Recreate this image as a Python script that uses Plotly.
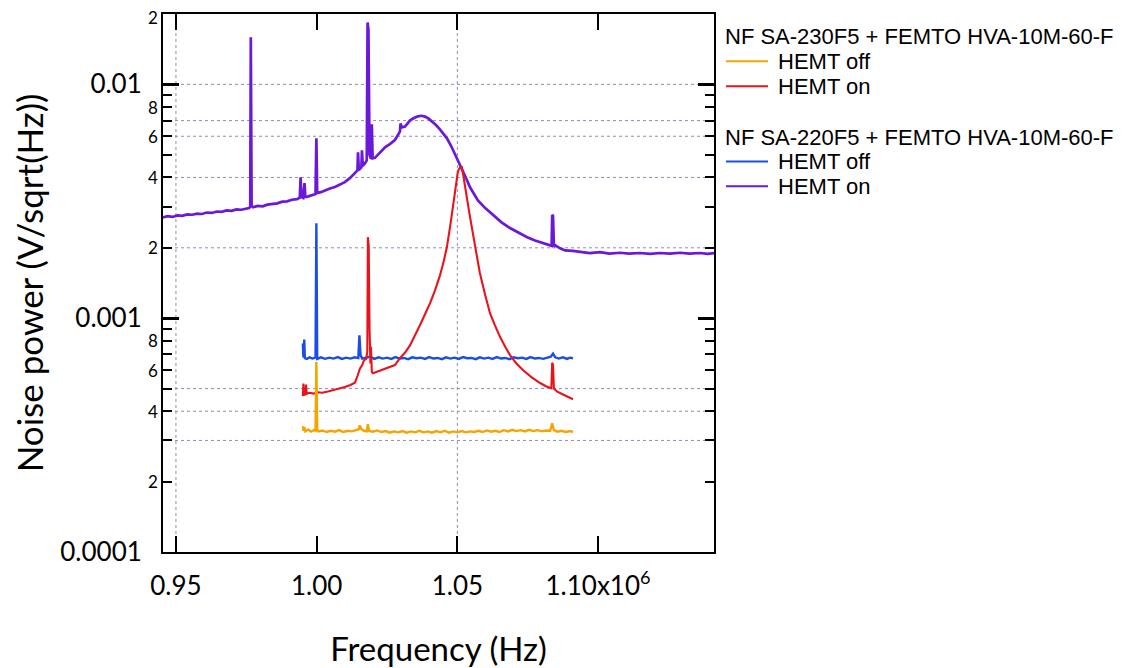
import numpy as np
import plotly.graph_objects as go

# frequency in units of 1e6 Hz, noise in V/sqrt(Hz)
# NF SA-220F5 + FEMTO, HEMT on (purple)
sa220_on = [
    (0.9454, 2.70e-3), (0.9470, 2.73e-3), (0.9488, 2.71e-3), (0.9505, 2.75e-3), (0.9522, 2.74e-3),
    (0.9540, 2.78e-3), (0.9558, 2.77e-3), (0.9575, 2.80e-3), (0.9592, 2.79e-3), (0.9610, 2.83e-3),
    (0.9628, 2.82e-3), (0.9645, 2.86e-3), (0.9662, 2.85e-3), (0.9680, 2.89e-3), (0.9698, 2.88e-3),
    (0.9715, 2.92e-3), (0.9732, 2.91e-3), (0.9748, 2.95e-3), (0.9760, 2.96e-3), (0.9764, 3.00e-3),
    (0.9766, 1.59e-2), (0.9769, 3.02e-3), (0.9774, 2.98e-3), (0.9790, 3.02e-3), (0.9808, 3.01e-3),
    (0.9825, 3.06e-3), (0.9842, 3.08e-3), (0.9860, 3.10e-3), (0.9878, 3.15e-3), (0.9895, 3.16e-3),
    (0.9912, 3.21e-3), (0.9930, 3.23e-3), (0.9940, 3.28e-3), (0.9943, 4.00e-3), (0.9946, 3.30e-3),
    (0.9952, 3.27e-3), (0.9957, 3.78e-3), (0.9960, 3.30e-3), (0.9968, 3.31e-3), (0.9982, 3.36e-3),
    (0.9996, 3.40e-3), (0.9999, 5.88e-3), (1.0002, 3.43e-3), (1.0015, 3.46e-3), (1.0030, 3.53e-3),
    (1.0047, 3.59e-3), (1.0065, 3.64e-3), (1.0083, 3.74e-3), (1.0100, 3.82e-3), (1.0118, 3.97e-3),
    (1.0130, 4.10e-3), (1.0140, 4.25e-3), (1.0145, 4.29e-3), (1.0147, 5.12e-3), (1.0150, 4.30e-3),
    (1.0155, 4.38e-3), (1.0159, 4.42e-3), (1.0161, 5.22e-3), (1.0164, 4.48e-3), (1.0172, 4.60e-3),
    (1.0178, 4.73e-3), (1.0181, 1.84e-2), (1.0184, 1.72e-2), (1.0188, 5.00e-3), (1.0193, 4.80e-3),
    (1.0196, 6.75e-3), (1.0199, 4.83e-3), (1.0207, 4.85e-3), (1.0225, 5.10e-3), (1.0243, 5.38e-3),
    (1.0260, 5.55e-3), (1.0278, 5.78e-3), (1.0290, 6.10e-3), (1.0296, 6.30e-3), (1.0298, 6.80e-3),
    (1.0303, 6.55e-3), (1.0314, 6.60e-3), (1.0332, 7.02e-3), (1.0346, 7.18e-3), (1.0360, 7.30e-3),
    (1.0372, 7.34e-3), (1.0385, 7.28e-3), (1.0397, 7.15e-3), (1.0410, 6.95e-3), (1.0424, 6.70e-3),
    (1.0438, 6.42e-3), (1.0450, 6.15e-3), (1.0463, 5.88e-3), (1.0478, 5.45e-3), (1.0492, 5.02e-3),
    (1.0504, 4.70e-3), (1.0516, 4.38e-3), (1.0530, 4.00e-3), (1.0545, 3.63e-3), (1.0558, 3.40e-3),
    (1.0573, 3.19e-3), (1.0600, 2.95e-3), (1.0627, 2.76e-3), (1.0657, 2.57e-3), (1.0687, 2.43e-3),
    (1.0718, 2.32e-3), (1.0748, 2.22e-3), (1.0776, 2.15e-3), (1.0804, 2.09e-3), (1.0825, 2.06e-3),
    (1.0835, 2.04e-3), (1.0837, 2.76e-3), (1.0840, 2.74e-3), (1.0843, 2.03e-3), (1.0848, 2.05e-3),
    (1.0865, 1.99e-3), (1.0883, 1.95e-3), (1.0910, 1.94e-3), (1.0936, 1.92e-3), (1.0970, 1.90e-3),
    (1.1007, 1.915e-3), (1.1040, 1.89e-3), (1.1078, 1.905e-3), (1.1110, 1.89e-3), (1.1149, 1.90e-3),
    (1.1185, 1.885e-3), (1.1220, 1.90e-3), (1.1255, 1.89e-3), (1.1291, 1.905e-3), (1.1325, 1.89e-3),
    (1.1362, 1.90e-3), (1.1390, 1.885e-3), (1.1412, 1.90e-3),
]

# NF SA-220F5 + FEMTO, HEMT off (blue)
sa220_off = [
    (0.9951, 7.80e-4), (0.9953, 6.80e-4), (0.9956, 8.10e-4), (0.9958, 6.75e-4), (0.9965, 6.70e-4),
    (0.9975, 6.80e-4), (0.9985, 6.72e-4), (0.9996, 6.78e-4), (0.9999, 2.55e-3), (1.0002, 6.70e-4),
    (1.0015, 6.80e-4), (1.0030, 6.70e-4), (1.0045, 6.78e-4), (1.0060, 6.72e-4), (1.0075, 6.82e-4),
    (1.0090, 6.70e-4), (1.0105, 6.78e-4), (1.0120, 6.72e-4), (1.0135, 6.80e-4), (1.0148, 6.75e-4),
    (1.0152, 8.45e-4), (1.0156, 6.95e-4), (1.0162, 6.72e-4), (1.0175, 6.80e-4), (1.0190, 6.85e-4),
    (1.0205, 6.70e-4), (1.0220, 6.80e-4), (1.0235, 6.72e-4), (1.0250, 6.78e-4), (1.0265, 6.70e-4),
    (1.0280, 6.82e-4), (1.0295, 6.72e-4), (1.0310, 6.76e-4), (1.0325, 6.68e-4), (1.0340, 6.80e-4),
    (1.0355, 6.74e-4), (1.0370, 6.78e-4), (1.0385, 6.70e-4), (1.0400, 6.82e-4), (1.0415, 6.72e-4),
    (1.0430, 6.76e-4), (1.0445, 6.68e-4), (1.0460, 6.80e-4), (1.0475, 6.72e-4), (1.0490, 6.78e-4),
    (1.0505, 6.70e-4), (1.0520, 6.82e-4), (1.0535, 6.74e-4), (1.0550, 6.76e-4), (1.0565, 6.68e-4),
    (1.0580, 6.80e-4), (1.0595, 6.72e-4), (1.0610, 6.78e-4), (1.0625, 6.70e-4), (1.0640, 6.82e-4),
    (1.0655, 6.72e-4), (1.0670, 6.76e-4), (1.0685, 6.68e-4), (1.0700, 6.80e-4), (1.0715, 6.74e-4),
    (1.0730, 6.78e-4), (1.0745, 6.70e-4), (1.0760, 6.82e-4), (1.0775, 6.72e-4), (1.0790, 6.76e-4),
    (1.0805, 6.70e-4), (1.0820, 6.80e-4), (1.0832, 6.85e-4), (1.0840, 7.05e-4), (1.0848, 6.80e-4),
    (1.0860, 6.72e-4), (1.0875, 6.80e-4), (1.0890, 6.70e-4), (1.0900, 6.78e-4), (1.0911, 6.74e-4),
]

# NF SA-230F5 + FEMTO, HEMT on (red)
sa230_on = [
    (0.9951, 4.65e-4), (0.9953, 5.25e-4), (0.9955, 4.70e-4), (0.9960, 4.72e-4), (0.9962, 5.20e-4),
    (0.9965, 4.75e-4), (0.9975, 4.80e-4), (0.9990, 4.76e-4), (1.0005, 4.82e-4), (1.0020, 4.80e-4),
    (1.0040, 4.86e-4), (1.0060, 4.92e-4), (1.0083, 5.02e-4), (1.0100, 5.08e-4), (1.0120, 5.18e-4),
    (1.0136, 5.30e-4), (1.0146, 5.70e-4), (1.0154, 6.10e-4), (1.0162, 6.30e-4), (1.0168, 6.60e-4),
    (1.0176, 6.70e-4), (1.0180, 7.20e-4), (1.0182, 2.22e-3), (1.0185, 2.05e-3), (1.0188, 9.00e-4),
    (1.0191, 6.40e-4), (1.0193, 7.55e-4), (1.0196, 5.90e-4), (1.0200, 5.82e-4), (1.0210, 5.88e-4),
    (1.0225, 5.98e-4), (1.0243, 6.12e-4), (1.0260, 6.20e-4), (1.0278, 6.30e-4), (1.0296, 6.75e-4),
    (1.0315, 7.15e-4), (1.0332, 7.67e-4), (1.0350, 8.45e-4), (1.0367, 9.33e-4), (1.0385, 1.04e-3),
    (1.0403, 1.16e-3), (1.0420, 1.31e-3), (1.0438, 1.52e-3), (1.0452, 1.76e-3), (1.0463, 2.02e-3),
    (1.0475, 2.50e-3), (1.0484, 3.04e-3), (1.0494, 3.70e-3), (1.0502, 4.25e-3), (1.0509, 4.40e-3),
    (1.0516, 4.42e-3), (1.0523, 3.95e-3), (1.0531, 3.41e-3), (1.0543, 2.80e-3), (1.0555, 2.31e-3),
    (1.0568, 1.90e-3), (1.0580, 1.56e-3), (1.0598, 1.27e-3), (1.0616, 1.05e-3), (1.0634, 9.30e-4),
    (1.0652, 8.30e-4), (1.0670, 7.55e-4), (1.0687, 6.95e-4), (1.0710, 6.40e-4), (1.0733, 6.00e-4),
    (1.0763, 5.60e-4), (1.0794, 5.28e-4), (1.0815, 5.12e-4), (1.0834, 5.02e-4), (1.0837, 6.45e-4),
    (1.0840, 6.30e-4), (1.0843, 5.00e-4), (1.0855, 4.85e-4), (1.0870, 4.75e-4), (1.0890, 4.62e-4),
    (1.0911, 4.50e-4),
]

# NF SA-230F5 + FEMTO, HEMT off (orange)
sa230_off = [
    (0.9951, 3.45e-4), (0.9953, 3.30e-4), (0.9956, 3.42e-4), (0.9960, 3.28e-4), (0.9970, 3.34e-4),
    (0.9980, 3.27e-4), (0.9990, 3.32e-4), (0.9996, 3.30e-4), (0.9999, 6.50e-4), (1.0002, 3.35e-4),
    (1.0006, 3.28e-4), (1.0020, 3.31e-4), (1.0035, 3.26e-4), (1.0050, 3.30e-4), (1.0065, 3.27e-4),
    (1.0080, 3.32e-4), (1.0095, 3.26e-4), (1.0110, 3.30e-4), (1.0125, 3.28e-4), (1.0140, 3.32e-4),
    (1.0150, 3.35e-4), (1.0153, 3.48e-4), (1.0158, 3.36e-4), (1.0168, 3.30e-4), (1.0178, 3.28e-4),
    (1.0182, 3.52e-4), (1.0186, 3.30e-4), (1.0200, 3.27e-4), (1.0215, 3.31e-4), (1.0230, 3.26e-4),
    (1.0245, 3.29e-4), (1.0260, 3.24e-4), (1.0275, 3.28e-4), (1.0290, 3.25e-4), (1.0305, 3.29e-4),
    (1.0320, 3.24e-4), (1.0335, 3.28e-4), (1.0350, 3.25e-4), (1.0365, 3.30e-4), (1.0380, 3.25e-4),
    (1.0395, 3.28e-4), (1.0410, 3.24e-4), (1.0425, 3.29e-4), (1.0440, 3.25e-4), (1.0455, 3.30e-4),
    (1.0470, 3.24e-4), (1.0485, 3.28e-4), (1.0500, 3.25e-4), (1.0515, 3.29e-4), (1.0530, 3.25e-4),
    (1.0545, 3.28e-4), (1.0560, 3.26e-4), (1.0575, 3.30e-4), (1.0590, 3.26e-4), (1.0605, 3.31e-4),
    (1.0620, 3.27e-4), (1.0635, 3.30e-4), (1.0650, 3.26e-4), (1.0665, 3.32e-4), (1.0680, 3.28e-4),
    (1.0695, 3.33e-4), (1.0710, 3.29e-4), (1.0725, 3.32e-4), (1.0740, 3.28e-4), (1.0755, 3.33e-4),
    (1.0770, 3.29e-4), (1.0785, 3.32e-4), (1.0800, 3.28e-4), (1.0815, 3.31e-4), (1.0830, 3.30e-4),
    (1.0837, 3.55e-4), (1.0843, 3.32e-4), (1.0855, 3.27e-4), (1.0870, 3.30e-4), (1.0885, 3.26e-4),
    (1.0900, 3.29e-4), (1.0911, 3.26e-4),
]

series = [
    (sa220_on, "#6b18d8", 2.7),
    (sa220_off, "#1a4ee6", 2.4),
    (sa230_on, "#e8141c", 2.1),
    (sa230_off, "#f5a500", 2.4),
]

x_ticks = [0.95, 1.00, 1.05, 1.10]
x_ticktext = ["0.95", "1.00", "1.05", "1.10x10<sup>6</sup>"]
y_major = [1e-4, 1e-3, 1e-2]
y_major_text = ["0.0001", "0.001", "0.01"]
y_minor = [m * d for d in (1e-4, 1e-3) for m in range(2, 10)] + [2e-2]
y_minor_labels = [2e-4, 4e-4, 6e-4, 8e-4, 2e-3, 4e-3, 6e-3, 8e-3, 2e-2]
y_minor_text = ["2", "4", "6", "8", "2", "4", "6", "8", "2"]
hgrid = [0.01, 0.007, 0.006, 0.004, 0.002, 0.0005, 0.0004, 0.0003]
vgrid = [0.95, 1.05]

legend_groups = [
    ("NF SA-230F5 + FEMTO HVA-10M-60-F", [("HEMT off", "#f5a500"), ("HEMT on", "#e8141c")]),
    ("NF SA-220F5 + FEMTO HVA-10M-60-F", [("HEMT off", "#1a4ee6"), ("HEMT on", "#6b18d8")]),
]

fig = go.Figure()
for pts, color, w in series:
    fx, fy = zip(*pts)
    fig.add_trace(go.Scatter(x=list(fx), y=list(fy), mode="lines",
                             line=dict(color=color, width=w), showlegend=False))

shapes = []
for v in hgrid:
    shapes.append(dict(type="line", xref="paper", x0=0, x1=1, yref="y", y0=v, y1=v,
                       line=dict(color="#8e8eb0", width=1, dash="dot"), layer="below"))
for v in vgrid:
    shapes.append(dict(type="line", xref="x", x0=v, x1=v, yref="paper", y0=0, y1=1,
                       line=dict(color="#8e8eb0", width=1, dash="dot"), layer="below"))

annotations = []
for v, t in zip(y_minor_labels, y_minor_text):
    annotations.append(dict(x=0, xref="paper", xshift=-3, xanchor="right", y=np.log10(v), yref="y",
                            yshift=-3 if v == 2e-2 else 0,
                            text=t, showarrow=False, font=dict(family="Lato", size=17, color="black")))

# manual legend, rows placed in screen px and converted to paper coords
W, H, L = 551, 540, 163
legend_font = dict(family="Liberation Sans, Arial", size=22, color="black")
row = 35
for title, items in legend_groups:
    annotations.append(dict(x=(723 - L) / W, y=(552 - row) / H, xref="paper", yref="paper",
                            xanchor="left", yanchor="middle", text=title, showarrow=False,
                            font=legend_font))
    row += 24.5
    for label, color in items:
        yy = (552 - row) / H
        shapes.append(dict(type="line", xref="paper", yref="paper", x0=(726 - L) / W, x1=(768 - L) / W,
                           y0=yy, y1=yy, line=dict(color=color, width=2)))
        annotations.append(dict(x=(776 - L) / W, y=yy, xref="paper", yref="paper",
                                xanchor="left", yanchor="middle", text=label, showarrow=False,
                                font=legend_font))
        row += 25
    row += 26

# page body adds an 8px offset, so the figure is 8px smaller on each side
fig.update_layout(
    width=1121, height=660,
    margin=dict(l=155, r=415, t=4, b=116),
    plot_bgcolor="white", paper_bgcolor="white",
    shapes=shapes, annotations=annotations,
    xaxis=dict(range=[0.9454, 1.1412], tickmode="array", tickvals=x_ticks, ticktext=x_ticktext,
               ticks="inside", ticklen=16, tickwidth=2, tickcolor="black",
               showline=True, linewidth=2, linecolor="black", mirror="allticks",
               showgrid=False, zeroline=False, ticklabelstandoff=10,
               tickfont=dict(family="Lato", size=26, color="black"),
               title=dict(text="Frequency (Hz)", standoff=38,
                          font=dict(family="Lato", size=33, color="black"))),
    yaxis=dict(type="log", range=[-4, np.log10(0.02)], tickmode="array",
               tickvals=y_major, ticktext=y_major_text,
               ticks="inside", ticklen=16, tickwidth=2.5, tickcolor="black",
               minor=dict(tickmode="array", tickvals=y_minor, ticks="inside",
                          ticklen=9, tickwidth=2, tickcolor="black", showgrid=False),
               showline=True, linewidth=2, linecolor="black", mirror="allticks",
               showgrid=False, zeroline=False, ticklabelstandoff=14,
               tickfont=dict(family="Lato", size=26, color="black"),
               title=dict(text="Noise power (V/sqrt(Hz))", standoff=10,
                          font=dict(family="Lato", size=35, color="black"))),
)

fig.write_html("out.html")
